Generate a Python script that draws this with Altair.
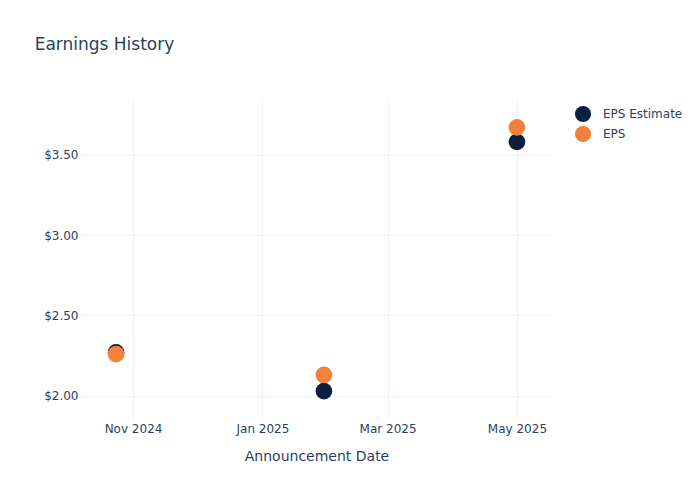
import altair as alt
import pandas as pd

dates = ["2024-10-24", "2025-01-30", "2025-05-01"]
eps_estimate = [2.27, 2.03, 3.58]
eps_actual = [2.26, 2.13, 3.67]
series_names = ["EPS Estimate", "EPS"]
colors = ["#0B1F41", "#F5803A"]
x_ticks = ["2024-11-01", "2025-01-01", "2025-03-01", "2025-05-01"]
x_domain = ["2024-10-07", "2025-05-18"]
y_ticks = [2.0, 2.5, 3.0, 3.5]


def to_dt(s):
    t = pd.Timestamp(s)
    return alt.DateTime(year=t.year, month=t.month, date=t.day)


rows = []
for d, v in zip(dates, eps_estimate):
    rows.append({"date": d + "T00:00:00", "value": v, "series": series_names[0], "order": 0})
for d, v in zip(dates, eps_actual):
    rows.append({"date": d + "T00:00:00", "value": v, "series": series_names[1], "order": 1})
df = pd.DataFrame(rows)

font = "DejaVu Sans"
text_color = "#2A3F5F"

chart = alt.Chart(df).mark_circle(size=280, opacity=1).encode(
    x=alt.X("date:T",
            scale=alt.Scale(domain=[to_dt(x_domain[0]), to_dt(x_domain[1])]),
            axis=alt.Axis(values=[to_dt(t) for t in x_ticks], format="%b %Y",
                          title="Announcement Date", labelPadding=3, titlePadding=15)),
    y=alt.Y("value:Q",
            scale=alt.Scale(domain=[1.85, 3.84], zero=False, nice=False),
            axis=alt.Axis(values=y_ticks, format="$.2f", title=None, labelPadding=2)),
    color=alt.Color("series:N",
                    scale=alt.Scale(domain=series_names, range=colors),
                    legend=alt.Legend(title=None, orient="none", legendX=494, legendY=5,
                                      symbolSize=260, labelFontSize=12, labelColor=text_color,
                                      labelFont=font, rowPadding=2, symbolOpacity=1,
                                      labelOffset=11)),
    order=alt.Order("order:Q"),
).properties(
    width=473, height=320,
    title=alt.TitleParams("Earnings History", anchor="start", dx=-9, fontSize=17,
                          font=font, color=text_color, fontWeight="normal", offset=46),
    autosize=alt.AutoSizeParams(type="none"),
    padding={"left": 72, "top": 92, "right": 130, "bottom": 68},
).configure_view(stroke=None).configure_axis(
    grid=True, gridColor="#EEF1F8", gridWidth=1, domain=False, ticks=False,
    labelFont=font, labelFontSize=12, labelColor=text_color,
    titleFont=font, titleFontSize=14, titleColor=text_color, titleFontWeight="normal",
)

chart.save("out.html", embed_options={"renderer": "svg", "actions": False})
